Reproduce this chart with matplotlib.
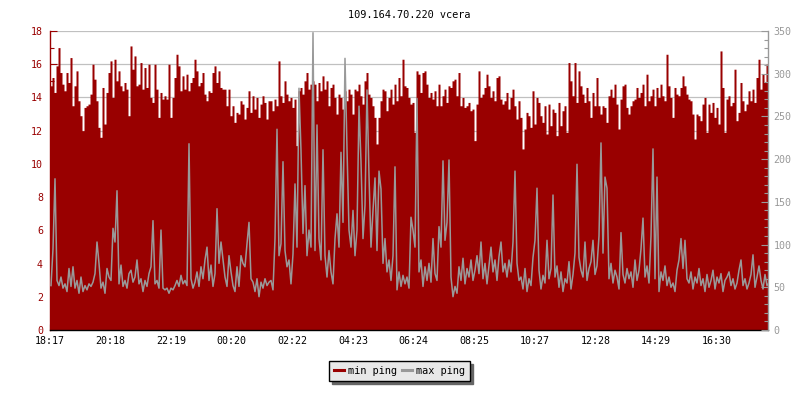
import matplotlib
matplotlib.use("Agg")
import matplotlib.pyplot as plt
from matplotlib.ticker import MultipleLocator
from matplotlib.lines import Line2D

plt.rcParams['font.family'] = ['DejaVu Sans Mono']
plt.rcParams['font.size'] = 7.2

title = "109.164.70.220 vcera"
series_names = ["min ping", "max ping"]
start_time = "18:17"
sample_minutes = 4
tick_labels = ["18:17", "20:18", "22:19", "00:20", "02:22", "04:23",
               "06:24", "08:25", "10:27", "12:28", "14:29", "16:30"]

min_ping_a = [
    14.7, 15.2, 14.3, 15.9, 17.0, 15.5, 14.8, 14.4, 15.5, 14.9,
    16.4, 13.5, 14.7, 15.6, 13.8, 12.9, 12.0, 13.4, 13.5, 13.6,
    14.2, 16.0, 15.1, 13.8, 12.2, 11.6, 14.6, 12.4, 14.3, 15.5,
    16.2, 14.0, 16.3, 15.0, 15.6, 14.7, 14.4, 14.9, 14.5, 12.9,
    17.1, 15.7, 16.5, 14.7, 14.8, 16.1, 14.5, 15.8, 14.6, 16.0,
    14.0, 13.7, 16.0, 14.5, 12.8, 14.3, 13.9, 14.1, 13.9, 16.0,
    12.8, 14.0, 15.2, 16.6, 15.9, 14.4, 15.3, 14.5, 15.4, 14.4,
    14.9, 15.2, 16.3, 15.6, 14.7, 14.9, 15.5, 14.2, 13.8, 14.4,
    14.3, 15.5, 15.9, 14.9, 15.6, 14.6, 14.5, 14.5, 13.5, 14.5,
    12.9, 13.5, 12.5, 13.1, 13.0, 13.8, 13.6, 12.7, 13.4, 14.4,
    13.1, 14.1, 13.3, 14.0, 12.8, 13.6, 14.1, 13.7, 12.7, 13.8,
]
min_ping_b = [
    13.8, 13.2, 13.9, 13.5, 16.2, 14.1, 13.7, 15.0, 14.2, 13.8,
    14.0, 13.4, 13.9, 11.1, 14.4, 14.6, 14.2, 15.0, 15.5, 14.5,
    14.8, 15.0, 14.8, 13.8, 14.9, 14.4, 15.3, 14.5, 15.0, 13.5,
    14.6, 14.8, 14.0, 13.0, 14.2, 14.0, 13.3, 14.4, 13.8, 14.5,
    14.2, 13.0, 14.5, 14.4, 14.8, 14.1, 13.6, 15.0, 15.5, 14.2,
    14.0, 13.5, 12.8, 11.2, 12.8, 13.8, 14.5, 14.4, 13.2, 14.0,
    14.5, 13.6, 14.8, 13.8, 15.2, 14.1, 16.3, 14.7, 14.6, 14.0,
    13.6, 13.7, 11.9, 15.6, 15.4, 14.3, 15.5, 15.6, 14.8, 14.0,
    14.3, 13.9, 14.4, 13.5, 14.8, 13.5, 14.1, 14.5, 13.7, 14.7,
    14.6, 15.0, 15.1, 14.1, 15.5, 13.5, 14.0, 13.4, 13.5, 13.7,
    13.2, 13.3, 11.4, 13.6, 15.6, 14.0, 14.2, 14.6, 15.4, 14.7,
    14.0, 14.4, 13.8, 15.2, 15.3, 13.9, 13.6, 13.8, 14.3, 13.3,
    14.0, 14.5, 13.5, 12.7, 13.8,
]
min_ping_c = [
    12.8, 10.9, 12.1, 13.1, 12.9, 12.2, 14.4, 12.4, 14.0, 13.7,
    12.9, 12.5, 13.5, 11.8, 13.6, 12.3, 13.3, 13.1, 11.7, 13.7,
    12.3, 13.2, 13.5, 11.9, 16.1, 15.0, 14.1, 16.1, 13.7, 15.6,
    14.7, 14.2, 13.7, 14.6, 13.8, 12.8, 14.3, 13.5, 15.2, 13.5,
    13.0, 13.5, 13.4, 12.5, 14.1, 14.5, 14.0, 14.8, 13.6, 12.1,
    13.9, 14.7, 14.8, 13.4, 13.0, 13.5, 13.8, 13.9, 14.6, 14.0,
    14.3, 14.8, 13.5, 15.4, 13.8, 14.1, 14.5, 13.5, 14.6, 14.0,
    14.8, 14.1, 13.8, 16.6, 14.7, 14.0, 12.8, 14.6, 14.2, 14.1,
    14.6, 15.3, 14.7, 14.2, 13.9, 13.8, 13.0, 11.5, 13.0, 12.9,
    12.6, 13.6, 14.0, 11.9, 13.6, 13.1, 13.7, 12.8, 13.4, 12.4,
    16.8, 14.6, 11.9, 13.9, 14.1, 13.5, 13.7, 15.7, 12.6, 13.1,
    14.9, 13.8, 13.2, 13.6, 14.4, 13.8, 14.5, 13.7, 15.2, 16.3,
    14.5, 15.4, 14.9, 16.0, 13.4,
]

max_ping_a = [
    52, 95, 177, 58, 52, 62, 49, 54, 45, 72,
    51, 74, 49, 58, 43, 62, 45, 52, 47, 54,
    51, 56, 66, 103, 78, 49, 56, 43, 72, 62,
    58, 119, 103, 163, 54, 76, 51, 58, 49, 66,
    70, 56, 62, 82, 54, 60, 45, 58, 51, 66,
    74, 128, 54, 58, 49, 117, 49, 47, 49, 43,
    49, 47, 52, 58, 51, 64, 54, 58, 52, 218,
    60, 49, 56, 68, 51, 74, 60, 82, 97, 58,
    76, 51, 66, 142, 78, 103, 82, 62, 51, 87,
    68, 52, 45, 74, 51, 87, 78, 74, 101, 126,
    60, 56, 45, 60, 39, 56, 49, 60, 52, 56,
]
max_ping_b = [
    58, 47, 107, 235, 87, 101, 197, 93, 74, 82,
    54, 89, 171, 97, 283, 210, 113, 169, 87, 117,
    97, 348, 93, 240, 107, 82, 211, 87, 62, 93,
    68, 54, 107, 136, 97, 208, 126, 318, 212, 117,
    97, 140, 87, 117, 262, 197, 107, 146, 281, 181,
    97, 140, 178, 93, 186, 165, 78, 107, 68, 82,
    58, 87, 191, 47, 68, 51, 64, 54, 62, 49,
    132, 117, 97, 271, 68, 82, 51, 74, 58, 78,
    56, 107, 66, 58, 121, 97, 198, 105, 126, 199,
    62, 39, 51, 43, 74, 58, 84, 54, 72, 62,
    82, 58, 70, 87, 66, 103, 60, 78, 54, 76,
    97, 68, 82, 58, 86, 103, 68, 78, 62, 82,
    68, 103, 186, 78, 58,
]
max_ping_c = [
    62, 48, 72, 45, 60, 52, 85, 105, 166, 70,
    48, 64, 55, 105, 60, 72, 158, 62, 75, 50,
    68, 45, 60, 55, 80, 48, 65, 90, 194, 85,
    70, 62, 103, 58, 72, 80, 105, 65, 75, 110,
    219, 90, 179, 166, 60, 78, 55, 70, 62, 48,
    114, 65, 55, 72, 60, 68, 50, 82, 58, 70,
    95, 131, 62, 75, 55, 110, 212, 60, 179, 45,
    68, 58, 75, 52, 62, 50, 55, 45, 70, 82,
    107, 72, 105, 60, 55, 68, 48, 62, 55, 72,
    52, 60, 45, 65, 50, 58, 70, 48, 62, 55,
    66, 45, 58, 62, 68, 52, 60, 48, 55, 70,
    82, 52, 60, 48, 55, 65, 88, 50, 62, 75,
    58, 48, 65, 52, 55,
]

min_ping = min_ping_a + min_ping_b + min_ping_c
max_ping = max_ping_a + max_ping_b + max_ping_c
n = min(len(min_ping), len(max_ping))
min_ping = min_ping[:n]
max_ping = max_ping[:n]
minutes = [i * sample_minutes for i in range(n)]


def to_offset(label):
    h0, m0 = map(int, start_time.split(":"))
    h, m = map(int, label.split(":"))
    return ((h * 60 + m) - (h0 * 60 + m0)) % 1440


tick_pos = [to_offset(t) for t in tick_labels]

RED = "#990000"
GREY = "#999999"

fig = plt.figure(figsize=(8, 4), dpi=100)
ax = fig.add_axes([0.0625, 0.175, 0.8975, 0.7475])

ax.fill_between(minutes, min_ping, step="post", color=RED, linewidth=0,
                antialiased=False, zorder=2)
ax.set_xlim(0, minutes[-1])
ax.set_ylim(0, 18)
ax.set_axisbelow(True)
ax.yaxis.set_major_locator(MultipleLocator(2))
ax.yaxis.set_minor_locator(MultipleLocator(1))
ax.grid(axis="y", color="#c0c0c0", linewidth=0.9, zorder=0)
ax.set_xticks(tick_pos)
ax.set_xticklabels(tick_labels)
ax.tick_params(axis="y", which="both", direction="in", colors=RED,
               labelcolor=RED, width=0.8, pad=5)
ax.tick_params(axis="y", which="major", length=5)
ax.tick_params(axis="y", which="minor", length=3)
ax.tick_params(axis="x", direction="in", length=4, width=0.8, colors="black",
               pad=4)
ax.spines["top"].set_visible(False)
ax.spines["right"].set_visible(False)
ax.spines["left"].set_color(RED)
ax.spines["left"].set_linewidth(1.0)
ax.spines["bottom"].set_color("black")
ax.spines["bottom"].set_linewidth(1.0)

ax2 = ax.twinx()
ax2.plot([m + sample_minutes / 2 for m in minutes], max_ping, color=GREY,
         linewidth=1.1, zorder=3)
ax2.set_ylim(0, 350)
ax2.yaxis.set_major_locator(MultipleLocator(50))
ax2.yaxis.set_minor_locator(MultipleLocator(10))
ax2.tick_params(axis="y", which="both", direction="in", colors=GREY,
                labelcolor=GREY, width=0.8, pad=4)
ax2.tick_params(axis="y", which="major", length=5)
ax2.tick_params(axis="y", which="minor", length=3)
for s in ["top", "left", "bottom"]:
    ax2.spines[s].set_visible(False)
ax2.spines["right"].set_color(GREY)
ax2.spines["right"].set_linewidth(1.0)

fig.text(0.51125, 0.962, title, ha="center", va="center", color="black",
         fontsize=7.4)

handles = [Line2D([], [], color=RED, linewidth=2.2),
           Line2D([], [], color=GREY, linewidth=2.2)]
leg = fig.legend(handles, series_names, loc="center",
                 bbox_to_anchor=(399.5 / 800, 1 - 371 / 400), ncol=2,
                 frameon=True, fancybox=False, shadow={"color": "#666666", "alpha": 1},
                 handlelength=1.0, handletextpad=0.4, columnspacing=0.4,
                 borderpad=0.5, fontsize=7.4)
leg.get_frame().set_facecolor("#e8e8e8")
leg.get_frame().set_edgecolor("black")
leg.get_frame().set_linewidth(1.0)
leg.get_frame().set_alpha(1)

fig.savefig("out.png", dpi=100)
